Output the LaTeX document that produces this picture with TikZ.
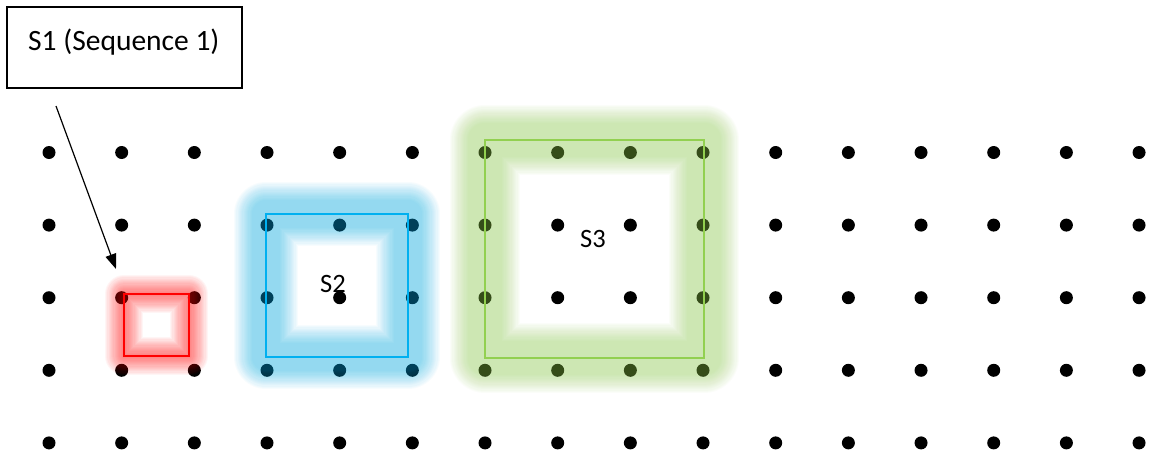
\documentclass[tikz,border=0pt]{standalone}
\usepackage{fontspec}
\setmainfont{Carlito}
\usetikzlibrary{arrows.meta}
\definecolor{sqred}{RGB}{255,0,0}
\definecolor{sqblue}{RGB}{0,176,240}
\definecolor{sqgreen}{RGB}{146,208,80}
% #1 colour, #2..#5 rectangle, #6 half width of the glow, #7 opacity per stroke
\newcommand{\glowrect}[7]{%
  \foreach \k in {0,...,15}{%
    \pgfmathsetmacro{\lw}{max(2,2*(#6-11)+36*\k/15)}%
    \draw[#1, opacity=#7, line width=\lw pt, line join=round] (#2,#3) rectangle (#4,#5);
  }%
}
\begin{document}
\begin{tikzpicture}[x=1pt,y=-1pt,
  dot/.style={circle, fill=black, inner sep=0pt, minimum size=13pt},
  sqbox/.style={draw=#1, line width=1.8pt, inner sep=0pt},
  labeltext/.style={font=\fontsize{26.5}{32}\selectfont, inner sep=0pt},
  calloutbox/.style={draw=black, line width=1.3pt, inner sep=0pt},
  arrowline/.style={draw=black, line width=1.2pt, -{Triangle[length=15pt,width=11pt]}}]
\useasboundingbox (0,0) rectangle (1152,458);
\fill[white] (0,0) rectangle (1152,458);
% dot grid
\foreach \i in {0,...,15}{
  \foreach \j in {0,...,4}{
    \node[dot] (d\i-\j) at ({49+72.67*\i},{152.5+72.6*\j}) {};
  }
}
% glows
\glowrect{sqred}{124}{294}{189}{356}{12}{0.038}
\glowrect{sqblue}{266}{214}{408}{357}{25}{0.032}
\glowrect{sqgreen}{485}{140}{704}{358}{28}{0.032}
% squares
\node[sqbox=sqred, minimum width=65pt, minimum height=62pt] (s1sq) at (156.5,325) {};
\node[sqbox=sqblue, minimum width=142pt, minimum height=143pt] (s2sq) at (337,285.5) {};
\node[sqbox=sqgreen, minimum width=219pt, minimum height=218pt] (s3sq) at (594.5,249) {};
% labels
\node[labeltext, anchor=base west] (s2lbl) at (320,292) {S2};
\node[labeltext, anchor=base west] (s3lbl) at (580,247) {S3};
% callout
\node[calloutbox, minimum width=235pt, minimum height=81pt] (s1box) at (124.5,47.5) {};
\node[font=\fontsize{29.5}{35}\selectfont, inner sep=0pt, anchor=base west] (s1text) at (28,50) {S1 (Sequence 1)};
\coordinate (arrstart) at (56,106);
\coordinate (arrtip) at (116,269);
\draw[arrowline] (arrstart) -- (arrtip);
\end{tikzpicture}
\end{document}
